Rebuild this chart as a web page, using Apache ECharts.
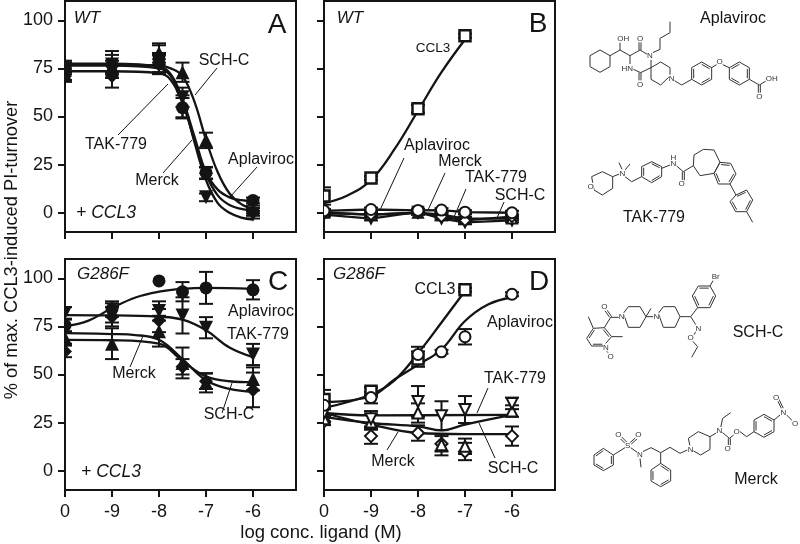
<!DOCTYPE html>
<html>
<head>
<meta charset="utf-8">
<style>html,body{margin:0;padding:0;background:#fff}#chart{width:800px;height:544px}</style>
<script src="https://cdn.jsdelivr.net/npm/echarts@6/dist/echarts.min.js"></script>
</head>
<body>
<div id="chart"></div>
<script>
// log conc. of each measured point, -10 is the "0" (no ligand) position
const doses = [-10, -9, -8, -7.5, -7, -6];
const xTickValues = [-10, -9, -8, -7, -6];
const xTickLabels = ['0', '-9', '-8', '-7', '-6'];
const yTickValues = [0, 25, 50, 75, 100];

// panel A, WT + CCL3
const aAplaviroc = [76, 77, 80, 54.6, 20.8, 6.4];
const aAplavirocErr = [3, 7, 7, 5, 3, 1.5];
const aAplavirocCurve = [[-10, 77.5], [-9, 77.5], [-8, 76], [-7.75, 72], [-7.5, 59], [-7.25, 40], [-7, 21], [-6.75, 12], [-6.5, 8], [-6.25, 6.5], [-6, 6]];
const aSchC = [72, 76, 83, 73, 37.6, 1.7];
const aSchCErr = [3, 3, 5, 5, 4, 2];
const aSchCCurve = [[-10, 77], [-9, 77], [-8, 76.5], [-7.75, 75], [-7.5, 71], [-7.25, 58], [-7, 38], [-6.75, 21], [-6.5, 10], [-6.25, 4.5], [-6, 2]];
const aTak = [75, 77, 78, 60, 8, -1];
const aTakErr = [3, 5, 5, 5, 2, 2];
const aTakCurve = [[-10, 76.5], [-9, 76.5], [-8, 75], [-7.75, 71], [-7.5, 59], [-7.25, 37], [-7, 17], [-6.75, 5], [-6.5, 0], [-6.25, -2.5], [-6, -3.5]];
const aMerck = [71, 71, 77, 55, 20.5, 0.5];
const aMerckErr = [3, 6, 5, 6, 3, 2];
const aMerckCurve = [[-10, 73.5], [-9, 73.5], [-8, 72.5], [-7.75, 69], [-7.5, 57], [-7.25, 38], [-7, 20], [-6.75, 9], [-6.5, 4], [-6.25, 2], [-6, 1]];

// panel B, WT agonism
const bCcl3 = [8.7, 18, 54, null, 92, null];
const bCcl3Err = [4.5, 1, 2, null, 1, null];
const bCcl3Curve = [[-10, 5], [-9.5, 9], [-9, 17], [-8.5, 33], [-8, 53], [-7.5, 73], [-7, 90]];
const bAplaviroc = [1, 1.7, 1.2, 1.4, 0.3, 0];
const bSchC = [0, -1, 0, -1, -3, -3];
const bTak = [-1, -3, 0.5, -3, -5, -4];
const bMerck = [0, -1, 0, -2, -4, -2];
const bSmallErr = [1, 1, 1, 1, 1, 1];

// panel C, G286F + CCL3
const cAplaviroc = [75.5, 84, 98.6, 93, 95, 94];
const cAplavirocErr = [3, 4, 0, 5, 8.3, 5];
const cAplavirocCurve = [[-10, 75], [-9.5, 78], [-9, 84.5], [-8.5, 90], [-8, 93], [-7.5, 94.5], [-7, 95], [-6, 94.5]];
const cTak = [82, 82, 83, 80.7, 74.3, 60.4];
const cTakErr = [3, 5, 5, 9.4, 5.5, 5.5];
const cTakCurve = [[-10, 80.8], [-9, 80.7], [-8, 80], [-7.5, 78.5], [-7, 73], [-6.5, 64], [-6, 59]];
const cSchC = [69, 66, 72.5, 56, 45.7, 47.7];
const cSchCErr = [3, 8, 8, 8, 5, 6];
const cSchCCurve = [[-10, 68], [-9, 67.8], [-8, 66], [-7.5, 57], [-7, 49], [-6.5, 46.5], [-6, 46]];
const cMerck = [62, 80, 78, 54, 46.5, 42];
const cMerckErr = [3, 5, 6, 4, 4, 9];
const cMerckCurve = [[-10, 71.5], [-9, 71], [-8.5, 70.5], [-8, 68], [-7.5, 58], [-7, 47], [-6.5, 42.5], [-6, 41]];

// panel D, G286F agonism
const dCcl3 = [37, 41.3, 58, null, 94, null];
const dCcl3Err = [5, 2, 4, null, 1, null];
const dCcl3Curve = [[-10, 32.6], [-9, 39.6], [-8.5, 47], [-8, 61], [-7.5, 77], [-7, 93.4]];
const dAplaviroc = [34, 38, 60.4, 61.8, 69.6, 91.7];
const dAplavirocErr = [2, 3, 4, 1, 4, 1];
const dAplavirocCurve = [[-10, 35.6], [-9, 38.7], [-8.5, 47.4], [-8, 55], [-7.5, 63], [-7, 77.8], [-6.5, 86.5], [-6, 90]];
const dTak = [30, 27, 36, 28.6, 31.8, 35];
const dTakErr = [2, 4, 8, 7.5, 7, 3];
const dTakCurve = [[-10, 30], [-9, 28.8], [-6, 29]];
const dSchC = [27, 25.3, 30, 13.5, 12.7, 31];
const dSchCErr = [2, 4, 5, 5.5, 4, 3];
const dSchCCurve = [[-10, 28], [-9, 24.8], [-8, 23], [-7.5, 21], [-7, 24], [-6, 29]];
const dMerck = [25.7, 18, 19.6, 14, 10, 18];
const dMerckErr = [2, 4, 4, 4, 4.5, 5];
const dMerckCurve = [[-10, 30], [-9, 24], [-8, 19.6], [-7, 19], [-6, 19]];

const INK = '#141414';
const panels = [
  { left: 65, top: 1, labels: false },
  { left: 324, top: 1, labels: false },
  { left: 65, top: 259, labels: true },
  { left: 324, top: 259, labels: true }
];
const grids = [], xAxes = [], yAxes = [], series = [];

panels.forEach((p, i) => {
  grids.push({ left: p.left, top: p.top, width: 231, height: 231, show: true, borderColor: INK, borderWidth: 2, backgroundColor: 'transparent' });
  xAxes.push({
    gridIndex: i, type: 'value', min: -10, max: -5.085, splitLine: { show: false },
    axisLine: { show: false, onZero: false },
    axisTick: { show: true, length: 7, customValues: xTickValues, lineStyle: { color: INK, width: 2 } },
    axisLabel: {
      show: p.labels, customValues: xTickValues, margin: 13, color: INK, fontSize: 18, fontFamily: 'Liberation Sans',
      formatter: v => xTickLabels[xTickValues.indexOf(v)]
    }
  });
  yAxes.push({
    gridIndex: i, type: 'value', min: -10, max: 110, splitLine: { show: false },
    axisLine: { show: false, onZero: false },
    axisTick: { show: true, length: 7, customValues: yTickValues, lineStyle: { color: INK, width: 2 } },
    axisLabel: {
      show: i % 2 === 0, customValues: yTickValues, margin: 12, color: INK, fontSize: 18, fontFamily: 'Liberation Sans'
    }
  });
});

function errorBars(g, vals, errs) {
  const data = [];
  vals.forEach((v, k) => { if (v != null && errs[k]) data.push([doses[k], v - errs[k], v + errs[k]]); });
  series.push({
    type: 'custom', xAxisIndex: g, yAxisIndex: g, silent: true, z: 3, data: data, clip: true,
    encode: { x: 0, y: [1, 2] },
    renderItem(params, api) {
      const lo = api.coord([api.value(0), api.value(1)]);
      const hi = api.coord([api.value(0), api.value(2)]);
      const st = { stroke: INK, lineWidth: 2, fill: null };
      return {
        type: 'group', children: [
          { type: 'line', shape: { x1: lo[0], y1: lo[1], x2: hi[0], y2: hi[1] }, style: st },
          { type: 'line', shape: { x1: lo[0] - 7, y1: lo[1], x2: lo[0] + 7, y2: lo[1] }, style: st },
          { type: 'line', shape: { x1: hi[0] - 7, y1: hi[1], x2: hi[0] + 7, y2: hi[1] }, style: st }
        ]
      };
    }
  });
}

// markers are custom so that the ones on the "0" position get cut at the frame
function markers(g, pts, symbol, open, size) {
  const r = size / 2;
  series.push({
    type: 'custom', xAxisIndex: g, yAxisIndex: g, silent: true, z: 4, data: pts, clip: true,
    encode: { x: 0, y: 1 },
    renderItem(params, api) {
      const c = api.coord([api.value(0), api.value(1)]);
      const x = c[0], y = c[1];
      const style = open ? { fill: '#fff', stroke: INK, lineWidth: symbol === 'rect' ? 2.5 : 2 } : { fill: INK };
      if (symbol === 'circle') return { type: 'circle', shape: { cx: x, cy: y, r: r }, style };
      if (symbol === 'rect') return { type: 'rect', shape: { x: x - r, y: y - r, width: size, height: size }, style };
      const outline = {
        triangle: [[x, y - r], [x + r, y + r], [x - r, y + r]],
        down: [[x, y + r], [x + r, y - r], [x - r, y - r]],
        diamond: [[x, y - r], [x + r, y], [x, y + r], [x - r, y]]
      }[symbol];
      return { type: 'polygon', shape: { points: outline }, style };
    }
  });
}

// one ligand: fitted curve, error bars, markers
function ligand(g, vals, errs, curve, symbol, open, size) {
  const pts = [];
  vals.forEach((v, k) => { if (v != null) pts.push([doses[k], v]); });
  series.push({
    type: 'line', xAxisIndex: g, yAxisIndex: g, data: curve || pts, smooth: curve ? 0.4 : false,
    showSymbol: false, silent: true, z: 2, lineStyle: { color: INK, width: 2.3 }
  });
  errorBars(g, vals, errs);
  markers(g, pts, symbol, open, size);
}

ligand(0, aSchC, aSchCErr, aSchCCurve, 'triangle', false, 14);
ligand(0, aTak, aTakErr, aTakCurve, 'down', false, 14);
ligand(0, aMerck, aMerckErr, aMerckCurve, 'diamond', false, 14);
ligand(0, aAplaviroc, aAplavirocErr, aAplavirocCurve, 'circle', false, 13);

ligand(1, bTak, bSmallErr, null, 'down', true, 10);
ligand(1, bSchC, bSmallErr, null, 'triangle', true, 10);
ligand(1, bMerck, bSmallErr, null, 'diamond', true, 11);
ligand(1, bAplaviroc, bSmallErr, null, 'circle', true, 11);
ligand(1, bCcl3, bCcl3Err, bCcl3Curve, 'rect', true, 11);

ligand(2, cMerck, cMerckErr, cMerckCurve, 'diamond', false, 14);
ligand(2, cSchC, cSchCErr, cSchCCurve, 'triangle', false, 14);
ligand(2, cTak, cTakErr, cTakCurve, 'down', false, 14);
ligand(2, cAplaviroc, cAplavirocErr, cAplavirocCurve, 'circle', false, 13);

ligand(3, dMerck, dMerckErr, dMerckCurve, 'diamond', true, 12);
ligand(3, dSchC, dSchCErr, dSchCCurve, 'triangle', true, 11);
ligand(3, dTak, dTakErr, dTakCurve, 'down', true, 11);
ligand(3, dCcl3, dCcl3Err, dCcl3Curve, 'rect', true, 11);
ligand(3, dAplaviroc, dAplavirocErr, dAplavirocCurve, 'circle', true, 11);

// annotations
const graphic = [];
function txt(s, x, y, size, style, rot, color, bg) {
  graphic.push({
    type: 'text', x: x, y: y, rotation: rot || 0, z: 20, silent: true,
    style: { text: s, fill: color || INK, align: 'center', verticalAlign: 'middle', backgroundColor: bg, font: (style || '') + ' ' + size + 'px "Liberation Sans"' }
  });
}
function lead(x1, y1, x2, y2) {
  graphic.push({ type: 'line', z: 19, silent: true, shape: { x1, y1, x2, y2 }, style: { stroke: INK, lineWidth: 1 } });
}
txt('% of max. CCL3-induced PI-turnover', 12, 250, 18.3, '', Math.PI / 2);
txt('log conc. ligand (M)', 321, 533, 18.5);

txt('WT', 87, 18, 17, 'italic');
txt('A', 277, 25, 28);
txt('+ CCL3', 106, 213, 17.5, 'italic');
txt('SCH-C', 224, 61, 16); lead(217, 68, 195, 95);
txt('TAK-779', 116, 145, 16); lead(118, 135, 168, 84);
txt('Merck', 157, 181, 16); lead(163, 173, 192, 140);
txt('Aplaviroc', 261, 160, 16); lead(257, 167, 230, 197);

txt('WT', 350, 18, 17, 'italic');
txt('B', 538, 24, 28);
txt('CCL3', 433, 48, 13.5);
txt('Aplaviroc', 437, 146, 16); lead(404, 158, 380, 210);
txt('Merck', 460, 162, 16); lead(445, 173, 428, 210);
txt('TAK-779', 496, 178, 16); lead(466, 189, 454, 217);
txt('SCH-C', 520, 196, 16); lead(504, 202, 497, 218);

txt('G286F', 103, 274, 17, 'italic');
txt('C', 278, 282, 28);
txt('+ CCL3', 111, 472, 17.5, 'italic');
txt('Aplaviroc', 261, 312, 16);
txt('TAK-779', 258, 335, 16);
txt('Merck', 134, 374, 16); lead(130, 367, 143, 336);
txt('SCH-C', 229, 415, 16); lead(222, 413, 232, 383);

txt('G286F', 359, 274, 17, 'italic');
txt('D', 539, 282, 28);
txt('CCL3', 435, 290, 16);
txt('Aplaviroc', 520, 323, 16);
txt('TAK-779', 515, 379, 16); lead(488, 388, 477, 413);
txt('Merck', 393, 462, 16); lead(387, 450, 398, 432);
txt('SCH-C', 513, 469, 16); lead(495, 458, 479, 423);

// structure sketches, coordinates are in 3x crops of the right column
function molecule(ox, oy, rings, chains, atoms) {
  const P = (x, y) => [ox + x / 3, oy + y / 3];
  const draw = pts => graphic.push({
    type: 'polyline', z: 15, silent: true, shape: { points: pts },
    style: { stroke: '#333', lineWidth: 1, fill: null }
  });
  rings.forEach(r => {
    const v = r.v.map(q => P(q[0], q[1]));
    draw(v.concat([v[0]]));
    if (r.arom) {
      const cx = v.reduce((s, q) => s + q[0], 0) / v.length;
      const cy = v.reduce((s, q) => s + q[1], 0) / v.length;
      v.forEach((q, k) => {
        if (k % 2) return;
        const n = v[(k + 1) % v.length];
        const f = 0.8;
        draw([[cx + (q[0] - cx) * f, cy + (q[1] - cy) * f], [cx + (n[0] - cx) * f, cy + (n[1] - cy) * f]]);
      });
    }
  });
  chains.forEach(c => {
    const pts = [];
    for (let k = 0; k < c.length; k += 2) pts.push(P(c[k], c[k + 1]));
    draw(pts);
  });
  atoms.forEach(a => {
    const q = P(a[1], a[2]);
    txt(a[0], q[0], q[1], 8, '', 0, '#333', '#fff');
  });
}

molecule(570, 0, [
  { v: [[90, 150], [120, 167], [120, 200], [90, 217], [60, 200], [60, 167]] },
  { v: [[243, 203], [272, 186], [300, 203], [300, 228], [272, 255], [243, 238]] },
  { v: [[365, 238], [365, 203], [395, 186], [425, 203], [425, 238], [395, 255]], arom: true },
  { v: [[478, 203], [508, 186], [538, 203], [538, 238], [508, 255], [478, 238]], arom: true }
], [
  [120, 167, 150, 150, 180, 167, 210, 150, 232, 163],
  [150, 150, 150, 128],
  [207, 150, 207, 124], [213, 150, 213, 124],
  [180, 167, 180, 192],
  [243, 178, 243, 203, 212, 218, 190, 208],
  [207, 218, 207, 243], [213, 218, 213, 243],
  [248, 158, 270, 148, 270, 115, 300, 98, 300, 65],
  [310, 240, 335, 255, 365, 238],
  [425, 203, 441, 193], [456, 193, 478, 203],
  [538, 238, 568, 255, 588, 243],
  [565, 255, 565, 282], [571, 255, 571, 282]
], [
  ['OH', 160, 115], ['O', 210, 115], ['N', 240, 168], ['HN', 172, 205], ['O', 210, 253],
  ['N', 305, 236], ['O', 449, 185], ['OH', 605, 237], ['O', 568, 290]
]);
txt('Aplaviroc', 733, 19, 16);

molecule(570, 0, [
  { v: [[65, 530], [97, 515], [128, 530], [128, 565], [97, 585], [72, 570]] },
  { v: [[215, 530], [215, 500], [245, 485], [275, 500], [275, 530], [245, 548]], arom: true },
  { v: [[450, 487], [482, 490], [498, 522], [480, 552], [445, 552], [432, 520]], arom: true },
  { v: [[498, 585], [530, 570], [548, 600], [530, 635], [497, 635], [480, 605]], arom: true },
  { v: [[370, 497], [372, 465], [400, 448], [432, 450], [450, 487], [432, 520], [390, 527]] }
], [
  [128, 530, 148, 522],
  [157, 510, 147, 488], [165, 510, 180, 492],
  [165, 530, 185, 545, 215, 530],
  [275, 505, 300, 495],
  [320, 498, 340, 515, 370, 497],
  [337, 515, 337, 543], [343, 515, 343, 543],
  [480, 552, 498, 585],
  [530, 635, 548, 667]
], [
  ['O', 62, 560], ['N', 157, 520], ['H', 310, 472], ['N', 310, 492], ['O', 335, 552]
]);
txt('TAK-779', 654, 218, 16);

molecule(570, 260, [
  { v: [[103, 203], [125, 230], [100, 258], [65, 258], [50, 235], [70, 205]], arom: true },
  { v: [[160, 160], [175, 140], [210, 140], [228, 170], [210, 202], [175, 202]] },
  { v: [[265, 160], [280, 140], [315, 140], [330, 170], [315, 202], [280, 202]] },
  { v: [[383, 143], [367, 108], [385, 78], [420, 78], [437, 108], [420, 143]], arom: true }
], [
  [70, 205, 55, 170],
  [125, 230, 158, 230],
  [103, 203, 122, 172, 148, 172],
  [119, 172, 102, 148], [125, 170, 108, 146],
  [228, 170, 243, 145],
  [228, 170, 250, 170],
  [330, 170, 362, 170, 383, 143],
  [420, 78, 430, 60],
  [362, 170, 380, 198],
  [380, 212, 370, 226],
  [365, 240, 383, 260, 365, 292],
  [108, 270, 118, 283]
], [
  ['O', 103, 140], ['N', 155, 170], ['N', 259, 170], ['N', 108, 262], ['O', 122, 290],
  ['Br', 437, 50], ['N', 385, 205], ['O', 362, 232]
]);
txt('SCH-C', 758, 333, 16);

molecule(570, 260, [
  { v: [[72, 585], [100, 565], [130, 585], [130, 615], [100, 632], [72, 615]], arom: true },
  { v: [[272, 610], [302, 630], [302, 663], [272, 680], [243, 663], [243, 630]], arom: true },
  { v: [[355, 535], [385, 515], [420, 530], [420, 568], [392, 585], [362, 568]] },
  { v: [[552, 515], [552, 480], [582, 463], [612, 480], [612, 515], [582, 532]], arom: true }
], [
  [130, 585, 165, 563],
  [165, 550, 150, 535], [170, 546, 155, 531],
  [180, 548, 198, 532], [184, 552, 202, 536],
  [182, 563, 203, 578],
  [210, 595, 213, 622],
  [218, 575, 243, 563, 272, 578, 300, 562, 330, 580, 352, 570],
  [272, 578, 272, 610],
  [420, 530, 440, 518],
  [452, 503, 458, 475, 482, 458],
  [457, 517, 478, 535, 495, 522],
  [475, 535, 475, 560], [481, 535, 481, 560],
  [510, 515, 530, 530, 552, 515],
  [612, 480, 630, 465],
  [635, 447, 622, 420], [640, 445, 627, 418],
  [650, 465, 668, 483]
], [
  ['S', 173, 558], ['O', 145, 525], ['O', 205, 525], ['N', 210, 583], ['N', 362, 568],
  ['N', 448, 513], ['O', 473, 567], ['O', 500, 515], ['N', 640, 457], ['O', 618, 412], ['O', 675, 490]
]);
txt('Merck', 756, 480, 16);

const chart = echarts.init(document.getElementById('chart'), null, { renderer: 'canvas' });
chart.setOption({
  animation: false, backgroundColor: '#fff',
  grid: grids, xAxis: xAxes, yAxis: yAxes, series: series, graphic: graphic
});
</script>
</body>
</html>
